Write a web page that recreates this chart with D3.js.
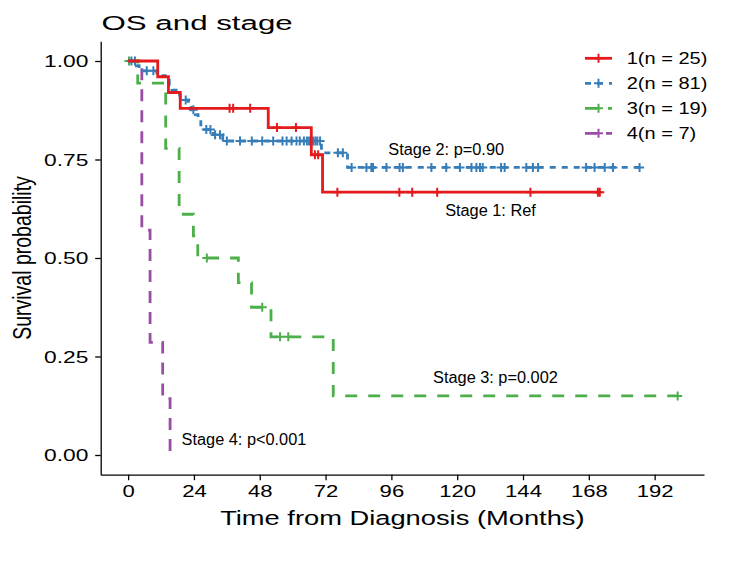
<!DOCTYPE html>
<html>
<head>
<meta charset="utf-8">
<script src="https://cdn.jsdelivr.net/npm/d3@7"></script>
<style>
  html, body { margin: 0; padding: 0; background: #fff; }
  text { font-family: "Liberation Sans", Arial, sans-serif; }
</style>
</head>
<body>
<svg id="chart" width="750" height="565"></svg>
<script>
// ---------------- data ----------------
const strataLabels = ["1(n = 25)", "2(n = 81)", "3(n = 19)", "4(n = 7)"];
const xTickValues = [0, 24, 48, 72, 96, 120, 144, 168, 192];
const yTickValues = [0, 0.25, 0.5, 0.75, 1];

// Stage 1
const s1DropTimes = [10.8, 14.7, 19, 51.1, 66.8, 70.9];
const s1DropSurv  = [0.96, 0.92, 0.88, 0.831, 0.762, 0.667];
const s1Censor    = [37, 38.3, 44.5, 54.3, 61.2, 68.1, 69.3, 76.3, 98.9, 103.6, 112.7, 146.7, 171.3, 172];
const s1End = 172;

// Stage 2
const s2DropTimes = [3, 4, 10.5, 13.5, 15, 16, 17.5, 19, 22, 23, 24.5, 25.5, 26.5, 27.5, 31, 34.5, 70.5, 80];
const s2DropSurv  = [0.988, 0.975, 0.963, 0.951, 0.938, 0.926, 0.914, 0.901, 0.888, 0.876, 0.864, 0.851, 0.838, 0.826, 0.813, 0.797, 0.767, 0.730];
const s2Censor    = [1.2, 2.5, 6.8, 9.2, 21, 23.8, 28.5, 30, 31.7, 33.5, 36, 40.8, 45.1, 48.9, 52.9, 56.3, 57.8, 59.6,
                     61.4, 62.6, 64.1, 65.2, 66, 66.8, 67.5, 68.3, 69, 70, 76.5, 78.3, 81.5, 86.9, 88.7, 89.3, 94.2,
                     99, 100.2, 110.6, 116, 121, 125.2, 127, 128.3, 129.3, 136, 137.3, 145.2, 147.6, 149.5, 167,
                     170.1, 173.8, 176.8, 186.5];
const s2End = 186.5;

// Stage 3
const s3DropTimes = [3.5, 13.7, 18.6, 23.8, 25.4, 40.2, 45, 52.1, 74.8];
const s3DropSurv  = [0.944, 0.778, 0.611, 0.556, 0.5, 0.4375, 0.375, 0.3, 0.15];
const s3Censor    = [0.3, 28.7, 48.9, 55.4, 58.4, 200.4];
const s3End = 200.4;

// Stage 4
const s4DropTimes = [5, 8, 12.6, 15.3];
const s4DropSurv  = [0.571, 0.286, 0.143, 0];
const s4Censor    = [];
const s4End = 15.3;

const annotationTexts = ["Stage 2: p=0.90", "Stage 1: Ref", "Stage 3: p=0.002", "Stage 4: p<0.001"];

// ---------------- layout / styles ----------------
const colors = ["#E41A1C", "#377EB8", "#4DAF4A", "#984EA3"];
const dashes = [null, "6,6", "12,11", "12,9"];
const series = [
  {times: s1DropTimes, surv: s1DropSurv, censor: s1Censor, end: s1End},
  {times: s2DropTimes, surv: s2DropSurv, censor: s2Censor, end: s2End},
  {times: s3DropTimes, surv: s3DropSurv, censor: s3Censor, end: s3End},
  {times: s4DropTimes, surv: s4DropSurv, censor: s4Censor, end: s4End}
];

const svg = d3.select("#chart");
const x = d3.scaleLinear().domain([-10, 210]).range([100.7, 704]);
const y = d3.scaleLinear().domain([-0.05, 1.05]).range([474.7, 41.3]);

function survAt(s, t) {
  let v = 1;
  for (let i = 0; i < s.times.length; i++) if (s.times[i] <= t) v = s.surv[i];
  return v;
}
function stepPoints(s) {
  const pts = [[0, 1]];
  let cur = 1;
  s.times.forEach((t, i) => {
    pts.push([t, cur]);
    cur = s.surv[i];
    pts.push([t, cur]);
  });
  pts.push([s.end, cur]);
  return pts;
}
const line = d3.line().x(d => x(d[0])).y(d => y(d[1]));

function crossPath(cx, cy, h) {
  return `M${cx - h},${cy}H${cx + h}M${cx},${cy - h}V${cy + h}`;
}

// curves (draw in reverse so stage 1 on top)
const curveG = svg.append("g");
[3, 2, 1, 0].forEach(i => {
  const s = series[i];
  curveG.append("path")
    .attr("d", line(stepPoints(s)))
    .attr("fill", "none")
    .attr("stroke", colors[i])
    .attr("stroke-width", 2.8)
    .attr("stroke-dasharray", dashes[i]);
  curveG.append("g").selectAll("path").data(s.censor).join("path")
    .attr("d", t => crossPath(x(t), y(survAt(s, t)), 4.5))
    .attr("stroke", colors[i])
    .attr("stroke-width", 2)
    .attr("fill", "none");
});

// axes
const yAxis = svg.append("g")
  .attr("transform", `translate(${x.range()[0]},0)`)
  .call(d3.axisLeft(y).tickValues(yTickValues).tickFormat(d3.format(".2f")).tickSize(5.5).tickSizeOuter(0));
const xAxis = svg.append("g")
  .attr("transform", `translate(0,${y.range()[0]})`)
  .call(d3.axisBottom(x).tickValues(xTickValues).tickFormat(d3.format("d")).tickSize(5.5).tickSizeOuter(0));

[yAxis, xAxis].forEach(g => {
  g.select(".domain").attr("stroke", "#000").attr("stroke-width", 1.3);
  g.selectAll(".tick line").attr("stroke", "#000").attr("stroke-width", 1.3);
  g.selectAll(".tick text").attr("fill", "#000").style("font-size", "17px")
    .style("font-family", "'Liberation Sans', Arial, sans-serif");
});
yAxis.selectAll(".tick text")
  .attr("x", 0).attr("dy", "0.35em")
  .attr("transform", "translate(-12.4,0) scale(1.34,1)");
xAxis.selectAll(".tick text")
  .attr("y", 0).attr("dy", "0")
  .attr("transform", "translate(0,22.5) scale(1.3,1)");

// text helper
function addText(str, tx, ty, size, sx, anchor) {
  return svg.append("text")
    .attr("transform", `translate(${tx},${ty}) scale(${sx},1)`)
    .attr("text-anchor", anchor || "start")
    .style("font-size", size + "px")
    .attr("fill", "#000")
    .text(str);
}

// title
addText("OS and stage", 101.5, 30, 21, 1.49, "start");

// axis titles
addText("Time from Diagnosis (Months)", (x.range()[0] + x.range()[1]) / 2, 525, 21, 1.3, "middle");
svg.append("text")
  .attr("transform", `translate(31,${(y.range()[0] + y.range()[1]) / 2}) scale(1.3,1) rotate(-90)`)
  .attr("text-anchor", "middle")
  .style("font-size", "19.5px")
  .attr("fill", "#000")
  .text("Survival probability");

// annotations (anchored in data coordinates)
const annotAnchors = [[94.9, 0.761], [115.6, 0.607], [111.2, 0.183], [19.5, 0.025]];
annotationTexts.forEach((txt, i) => {
  addText(txt, x(annotAnchors[i][0]), y(annotAnchors[i][1]), 16, 1.02, "start");
});

// legend
const legendG = svg.append("g");
strataLabels.forEach((lab, i) => {
  const cy = 58.3 + i * 25;
  legendG.append("path")
    .attr("d", `M585,${cy}H612`)
    .attr("stroke", colors[i]).attr("stroke-width", 2.8)
    .attr("stroke-dasharray", dashes[i]).attr("fill", "none");
  legendG.append("path")
    .attr("d", crossPath(598.5, cy, 4.5))
    .attr("stroke", colors[i]).attr("stroke-width", 2).attr("fill", "none");
  addText(lab, 626.7, cy + 5.8, 16, 1.25, "start");
});
</script>
</body>
</html>
